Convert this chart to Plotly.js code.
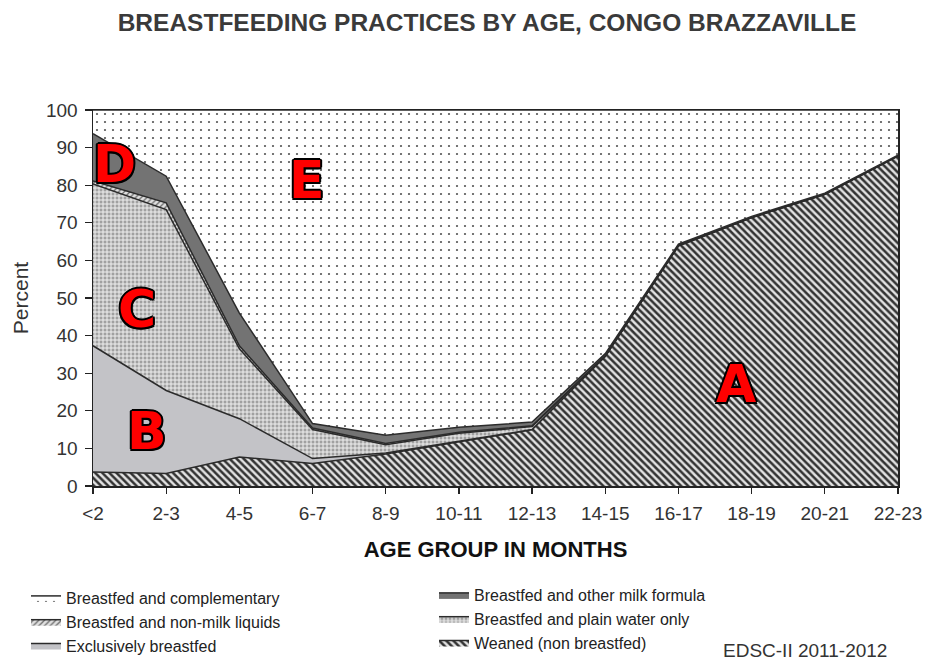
<!DOCTYPE html>
<html>
<head>
<meta charset="utf-8">
<script src="https://cdn.plot.ly/plotly-3.0.1.min.js"></script>
<style>html,body{margin:0;padding:0;background:#fff;}#chart{width:928px;height:661px;}</style>
</head>
<body>
<div id="chart"></div>
<script>
// Age groups (x categories)
const ageGroups = ["<2", "2-3", "4-5", "6-7", "8-9", "10-11", "12-13", "14-15", "16-17", "18-19", "20-21", "22-23"];

// Percent of children in each category (stacked bottom -> top)
const weaned        = [3.7, 3.3, 7.7, 6.0, 8.5, 11.8, 15.0, 34.5, 63.9, 71.4, 77.6, 87.8];
const exclusively   = [33.6, 22.1, 10.2, 1.3, 0.3, 0.2, 0.0, 0.0, 0.0, 0.0, 0.0, 0.0];
const plainWater    = [43.0, 48.1, 18.6, 7.7, 2.2, 2.0, 0.8, 0.0, 0.0, 0.0, 0.0, 0.0];
const nonMilkLiquid = [0.8, 1.8, 0.8, 0.4, 0.3, 0.3, 0.2, 0.2, 0.2, 0.1, 0.1, 0.1];
const otherMilk     = [12.6, 7.1, 8.7, 1.2, 2.2, 1.3, 1.0, 0.5, 0.2, 0.2, 0.2, 0.1];
const complementary = [6.3, 17.6, 54.0, 83.4, 86.5, 84.4, 83.0, 64.8, 35.7, 28.3, 22.1, 12.0];

const seriesNames = {
  weaned: "Weaned (non breastfed)",
  exclusively: "Exclusively breastfed",
  plainWater: "Breastfed and plain water only",
  nonMilkLiquid: "Breastfed and non-milk liquids",
  otherMilk: "Breastfed and other milk formula",
  complementary: "Breastfed and complementary"
};

const yTicks = [0, 10, 20, 30, 40, 50, 60, 70, 80, 90, 100];
const areaLabels = ["A", "B", "C", "D", "E"];

const edge = {color: "#2b2b2b", width: 1.5, shape: "linear"};

function area(name, y, fillcolor, pattern, legendName, rank) {
  const t = {
    type: "scatter", mode: "lines", x: ageGroups, y: y, name: name,
    stackgroup: "one", line: edge, fillcolor: fillcolor,
    legend: legendName, legendrank: rank, hoverinfo: "skip"
  };
  if (pattern) t.fillpattern = pattern;
  return t;
}

const traces = [
  area(seriesNames.weaned, weaned, "#e6e6e6",
       {shape: "\\", bgcolor: "#e2e2e2", fgcolor: "#333333", size: 5, solidity: 0.5}, "legend2", 3),
  area(seriesNames.exclusively, exclusively, "#c3c3c7", null, "legend", 3),
  area(seriesNames.plainWater, plainWater, "#a9a9a9",
       {shape: "+", bgcolor: "#a0a0a0", fgcolor: "#f0f0f0", size: 4, solidity: 0.45}, "legend2", 2),
  area(seriesNames.nonMilkLiquid, nonMilkLiquid, "#d6d6d6",
       {shape: "/", bgcolor: "#e0e0e0", fgcolor: "#666666", size: 4, solidity: 0.3}, "legend", 2),
  area(seriesNames.otherMilk, otherMilk, "#737373", null, "legend2", 1),
  area(seriesNames.complementary, complementary, "#ffffff",
       {shape: ".", bgcolor: "#ffffff", fgcolor: "#555555", size: 8, solidity: 0.06}, "legend", 1)
];

function pxX(px) { return (px - 93) / 805; }
function pxY(py) { return (486 - py) / 376; }

const labelPos = [[736, 384], [147, 431], [137, 309], [114, 164], [307, 180]];
const outline = "2px 0 #000, -2px 0 #000, 0 2px #000, 0 -2px #000, 1.5px 1.5px #000, -1.5px -1.5px #000, 1.5px -1.5px #000, -1.5px 1.5px #000";

const annotations = areaLabels.map((t, i) => ({
  text: t, xref: "paper", yref: "paper", x: pxX(labelPos[i][0]), y: pxY(labelPos[i][1]),
  xanchor: "center", yanchor: "middle", showarrow: false,
  font: {family: "DejaVu Sans", size: 52, weight: "bold", color: "#ff0000", shadow: outline}
}));
annotations.push({
  text: "EDSC-II 2011-2012", xref: "paper", yref: "paper", x: pxX(805), y: pxY(650),
  xanchor: "center", yanchor: "middle", showarrow: false,
  font: {family: "Liberation Sans", size: 19, color: "#333333"}
});

const legendFont = {family: "Liberation Sans", size: 16, color: "#222222"};

const layout = {
  width: 928, height: 661,
  margin: {l: 93, r: 30, t: 110, b: 175, autoexpand: false},
  paper_bgcolor: "#ffffff", plot_bgcolor: "#ffffff",
  title: {
    text: "BREASTFEEDING PRACTICES BY AGE, CONGO BRAZZAVILLE",
    font: {family: "Liberation Sans", size: 24.5, weight: "bold", color: "#3a3a3a"},
    x: 487 / 928, xanchor: "center", xref: "container",
    y: 1 - 22 / 661, yanchor: "middle", yref: "container"
  },
  xaxis: {
    type: "category", range: [0, ageGroups.length - 1],
    showgrid: false, zeroline: false,
    showline: true, mirror: true, linecolor: "#222222", linewidth: 1.5,
    ticks: "outside", ticklen: 6, tickcolor: "#222222", tickwidth: 1.2,
    ticklabelstandoff: 4,
    tickfont: {family: "Liberation Sans", size: 19, color: "#333333"},
    title: {text: "AGE GROUP IN MONTHS", standoff: 18,
            font: {family: "Liberation Sans", size: 22, weight: "bold", color: "#111111"}}
  },
  yaxis: {
    range: [0, 100], tickvals: yTicks, ticktext: yTicks.map(String),
    showgrid: false, zeroline: false,
    showline: true, mirror: true, linecolor: "#222222", linewidth: 1.5,
    ticks: "outside", ticklen: 7, tickcolor: "#222222", tickwidth: 1.2,
    ticklabelstandoff: 3,
    tickfont: {family: "Liberation Sans", size: 19, color: "#333333"},
    title: {text: "Percent", standoff: 11,
            font: {family: "Liberation Sans", size: 21, color: "#333333"}}
  },
  showlegend: true,
  legend: {
    x: pxX(26), y: pxY(581), xanchor: "left", yanchor: "top",
    orientation: "v", traceorder: "normal", font: legendFont,
    bgcolor: "rgba(0,0,0,0)", itemwidth: 30, tracegroupgap: 0
  },
  legend2: {
    x: pxX(434), y: pxY(578), xanchor: "left", yanchor: "top",
    orientation: "v", traceorder: "normal", font: legendFont,
    bgcolor: "rgba(0,0,0,0)", itemwidth: 30, tracegroupgap: 0
  },
  annotations: annotations
};

Plotly.newPlot("chart", traces, layout, {displayModeBar: false, staticPlot: true});
</script>
</body>
</html>
